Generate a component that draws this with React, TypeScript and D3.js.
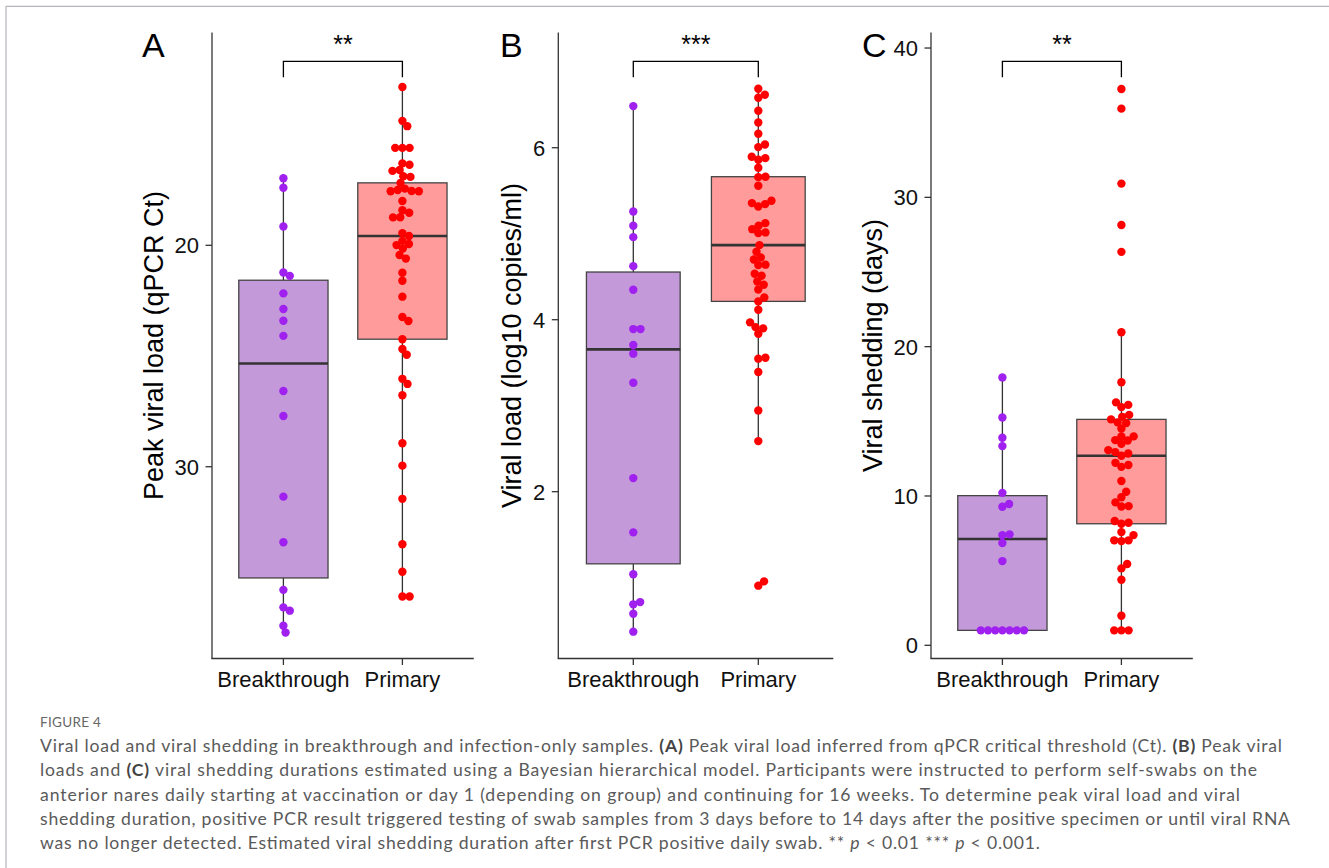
import React from "react";
import * as d3 from "d3";

// ---------------- DATA ----------------
const categories = ["Breakthrough", "Primary"];

// Panel A: Peak viral load (qPCR Ct)
const ctBreakthrough = [16.97, 17.4, 19.15, 21.23, 21.38, 22.17, 22.88, 23.41, 24.09, 26.58, 27.71, 31.35, 33.41, 35.56, 36.35, 36.5, 37.18, 37.49];
const ctPrimary = [12.85, 14.38, 14.62, 15.6, 15.6, 15.6, 16.3, 16.36, 16.6, 16.64, 16.88, 16.91, 17.18, 17.44, 17.5, 17.55, 17.56, 17.56, 18.0, 18.42, 18.53, 18.73, 18.74, 19.45, 19.58, 19.8, 19.94, 19.99, 20.15, 20.44, 20.6, 21.24, 21.6, 22.32, 23.24, 23.42, 24.24, 24.68, 24.94, 26.03, 26.26, 26.77, 28.94, 29.95, 31.45, 33.5, 34.74, 35.86, 35.86];
const ctWhiskers = [[16.97, 37.49], [12.85, 35.86]];
const ctTicks = [20, 30];

// Panel B: Viral load (log10 copies/ml)
const loadBreakthrough = [6.484, 5.259, 5.093, 4.96, 4.623, 4.349, 3.891, 3.891, 3.705, 3.605, 3.267, 2.158, 1.527, 1.039, 0.716, 0.69, 0.581, 0.372];
const loadPrimary = [6.686, 6.616, 6.581, 6.43, 6.294, 6.163, 6.038, 6.007, 5.895, 5.879, 5.86, 5.767, 5.663, 5.658, 5.558, 5.384, 5.356, 5.344, 5.317, 5.123, 5.093, 5.053, 5.015, 5.007, 4.867, 4.791, 4.724, 4.701, 4.64, 4.635, 4.535, 4.512, 4.445, 4.407, 4.352, 4.259, 4.213, 4.116, 3.969, 3.914, 3.899, 3.837, 3.558, 3.547, 3.391, 2.945, 2.588, 0.957, 0.907];
const loadWhiskers = [[0.372, 6.484], [2.588, 6.686]];
const loadTicks = [2, 4, 6];

// Panel C: Viral shedding (days)
const shedBreakthrough = [17.94, 15.26, 13.9, 13.34, 10.21, 9.46, 9.28, 7.43, 7.38, 6.85, 5.64, 1, 1, 1, 1, 1, 1, 1];
const shedPrimary = [37.26, 35.94, 30.92, 28.15, 26.35, 20.97, 17.62, 16.27, 16.1, 15.95, 15.43, 15.3, 15.13, 14.93, 14.88, 14.52, 13.99, 13.99, 13.74, 13.72, 13.49, 13.07, 12.94, 12.85, 12.69, 12.22, 12.07, 11.95, 11.0, 10.28, 9.92, 9.57, 9.32, 9.3, 8.32, 8.21, 8.14, 7.58, 7.38, 7.03, 7.03, 6.98, 5.44, 5.15, 4.39, 1.98, 1, 1, 1];
const shedWhiskers = [[1, 17.94], [1, 20.97]];
const shedTicks = [0, 10, 20, 30, 40];

const sigLabels = ["**", "***", "**"];
const panelLetters = ["A", "B", "C"];
const yTitles = ["Peak viral load (qPCR Ct)", "Viral load (log10 copies/ml)", "Viral shedding (days)"];

type Seg = [string, number];
const captionTitle = "FIGURE 4";
const captionLines: Seg[][] = [
  [["Viral load and viral shedding in breakthrough and infection-only samples. ", 0], ["(A)", 1], [" Peak viral load inferred from qPCR critical threshold (Ct). ", 0], ["(B)", 1], [" Peak viral", 0]],
  [["loads and ", 0], ["(C)", 1], [" viral shedding durations estimated using a Bayesian hierarchical model. Participants were instructed to perform self-swabs on the", 0]],
  [["anterior nares daily starting at vaccination or day 1 (depending on group) and continuing for 16 weeks. To determine peak viral load and viral", 0]],
  [["shedding duration, positive PCR result triggered testing of swab samples from 3 days before to 14 days after the positive specimen or until viral RNA", 0]],
  [["was no longer detected. Estimated viral shedding duration after first PCR positive daily swab. ** ", 0], ["p", 2], [" < 0.01 *** ", 0], ["p", 2], [" < 0.001.", 0]],
];
// measured widths of the caption lines in the reference (layout)
const captionWidths = [1242, 1217, 1200, 1250, 1000];

// ---------------- LAYOUT / STYLE ----------------
const W = 1329, H = 868;
const FONT = "'Liberation Sans', Arial, Helvetica, sans-serif";
const CAP_FONT = "Lato, 'Open Sans', sans-serif";
const panelTop = 32.5, panelBottom = 658.5;
const fills = ["#C399D9", "#FF9B9B"];
const pointColors = ["#A020F0", "#FF0000"];
const ink = "#333333";
const tickFont = 22, titleFont = 27;

const panelDefs = [
  { data: [ctBreakthrough, ctPrimary], whiskers: ctWhiskers, ticks: ctTicks, yDomain: [10.39, 38.66], bracket: [11.69, 12.41], xLeft: 212, step: 119, letterX: 142 },
  { data: [loadBreakthrough, loadPrimary], whiskers: loadWhiskers, ticks: loadTicks, yDomain: [7.34, 0.06], bracket: [7.005, 6.819], xLeft: 558.3, step: 125, letterX: 500 },
  { data: [shedBreakthrough, shedPrimary], whiskers: shedWhiskers, ticks: shedTicks, yDomain: [41.04, -0.884], bracket: [39.11, 38.04], xLeft: 931, step: 119, letterX: 862 },
];

function swarm(values: number[], y: (v: number) => number, d: number) {
  const order = values.map((v, i) => i).sort((a, b) => values[a] - values[b]);
  const placed: { dx: number; py: number; v: number }[] = [];
  for (const i of order) {
    const py = y(values[i]);
    const near = placed.filter((q) => Math.abs(q.py - py) < d);
    const cands = [0];
    for (const q of near) {
      const dy = q.py - py;
      const dx = Math.sqrt(d * d - dy * dy);
      cands.push(q.dx + dx, q.dx - dx);
    }
    cands.sort((a, b) => Math.abs(a) - Math.abs(b) || b - a);
    let chosen = cands[cands.length - 1];
    for (const c of cands) {
      const ok = near.every((q) => (c - q.dx) ** 2 + (q.py - py) ** 2 >= d * d - 0.01);
      if (ok) { chosen = c; break; }
    }
    placed.push({ dx: chosen, py, v: values[i] });
  }
  return placed;
}

function PanelView({ idx }: { idx: number }) {
  const p = panelDefs[idx];
  const y = d3.scaleLinear().domain(p.yDomain).range([panelTop, panelBottom]);
  const x = d3.scaleLinear().domain([0.4, 2.6]).range([p.xLeft, p.xLeft + 2.2 * p.step]);
  const boxW = 0.75 * p.step;
  const xRight = p.xLeft + 2.2 * p.step;
  const labelW = d3.max(p.ticks, (t) => String(t).length * 0.556 * tickFont) as number;
  const titleX = p.xLeft - 13 - labelW - 6 - 0.21 * titleFont;
  const midY = (panelTop + panelBottom) / 2;
  const bx1 = x(1), bx2 = x(2);
  const bTop = y(p.bracket[0]), bTip = y(p.bracket[1]);

  return (
    <g>
      <text x={p.letterX} y={57} fontFamily={FONT} fontSize={34} fill="#000">{panelLetters[idx]}</text>
      {p.data.map((vals, i) => {
        const s = vals.slice().sort(d3.ascending);
        const q1 = d3.quantile(s, 0.25) as number;
        const med = d3.quantile(s, 0.5) as number;
        const q3 = d3.quantile(s, 0.75) as number;
        const [wlo, whi] = p.whiskers[i];
        const cx = x(i + 1);
        const yq1 = y(q1), yq3 = y(q3);
        const top = Math.min(yq1, yq3), bot = Math.max(yq1, yq3);
        return (
          <g key={"b" + i}>
            <line x1={cx} x2={cx} y1={Math.min(y(wlo), y(whi))} y2={top} stroke={ink} strokeWidth={1.3} />
            <line x1={cx} x2={cx} y1={bot} y2={Math.max(y(wlo), y(whi))} stroke={ink} strokeWidth={1.3} />
            <rect x={cx - boxW / 2} y={top} width={boxW} height={bot - top} fill={fills[i]} stroke="#444" strokeWidth={1.3} />
            <line x1={cx - boxW / 2} x2={cx + boxW / 2} y1={y(med)} y2={y(med)} stroke={ink} strokeWidth={2.6} />
          </g>
        );
      })}
      {p.data.map((vals, i) => {
        const cx = x(i + 1);
        return swarm(vals, y, 7.2).map((pt, k) => (
          <circle key={"p" + i + "_" + k} cx={cx + pt.dx} cy={pt.py} r={4.2} fill={pointColors[i]} />
        ));
      })}
      <line x1={p.xLeft} x2={p.xLeft} y1={panelTop} y2={panelBottom} stroke={ink} strokeWidth={1.3} />
      <line x1={p.xLeft - 0.65} x2={xRight} y1={panelBottom} y2={panelBottom} stroke={ink} strokeWidth={1.3} />
      {p.ticks.map((t) => (
        <g key={"t" + t}>
          <line x1={p.xLeft - 6.5} x2={p.xLeft} y1={y(t)} y2={y(t)} stroke={ink} strokeWidth={1.3} />
          <text x={p.xLeft - 13} y={y(t)} dy="0.36em" textAnchor="end" fontFamily={FONT} fontSize={tickFont} fill="#111">{t}</text>
        </g>
      ))}
      {categories.map((c, i) => (
        <g key={"c" + i}>
          <line x1={x(i + 1)} x2={x(i + 1)} y1={panelBottom} y2={panelBottom + 6.5} stroke={ink} strokeWidth={1.3} />
          <text x={x(i + 1)} y={687} textAnchor="middle" fontFamily={FONT} fontSize={tickFont} fill="#111">{c}</text>
        </g>
      ))}
      <text transform={`translate(${titleX},${midY}) rotate(-90)`} textAnchor="middle" fontFamily={FONT} fontSize={titleFont} fill="#000">{yTitles[idx]}</text>
      <path d={`M${bx1},${bTip}V${bTop}H${bx2}V${bTip}`} fill="none" stroke="#000" strokeWidth={1.3} />
      <text x={(bx1 + bx2) / 2} y={bTop - 8} textAnchor="middle" fontFamily={FONT} fontSize={25} fill="#000">{sigLabels[idx]}</text>
    </g>
  );
}

export default function App() {
  const capY0 = 752, capDy = 24.3;
  return (
    <div style={{ position: "absolute", left: 0, top: 0, width: W, height: H, overflow: "hidden" }}>
      <svg width={W} height={H} viewBox={`0 0 ${W} ${H}`} style={{ display: "block" }}>
        <rect x={0} y={0} width={W} height={H} fill="#fff" />
        <line x1={6} x2={W} y1={6.3} y2={6.3} stroke="#b4b4bc" strokeWidth={1.2} />
        <line x1={6} x2={6} y1={6} y2={H} stroke="#b4b4bc" strokeWidth={1.2} />
        {panelDefs.map((_, i) => <PanelView key={i} idx={i} />)}
        <text x={40} y={727} fontFamily={CAP_FONT} fontSize={13.5} fill="#666" letterSpacing={0.3}>{captionTitle}</text>
        {captionLines.map((line, li) => (
          <text key={li} x={40} y={capY0 + li * capDy} fontFamily={CAP_FONT} fontSize={17.6} fill="#5a5a5a"
            textLength={captionWidths[li]} lengthAdjust="spacing">
            {line.map((s, si) => (
              <tspan key={si} fontWeight={s[1] === 1 ? "bold" : "normal"} fontStyle={s[1] === 2 ? "italic" : "normal"} fill={s[1] === 1 ? "#444" : "#5a5a5a"}>{s[0]}</tspan>
            ))}
          </text>
        ))}
      </svg>
    </div>
  );
}
